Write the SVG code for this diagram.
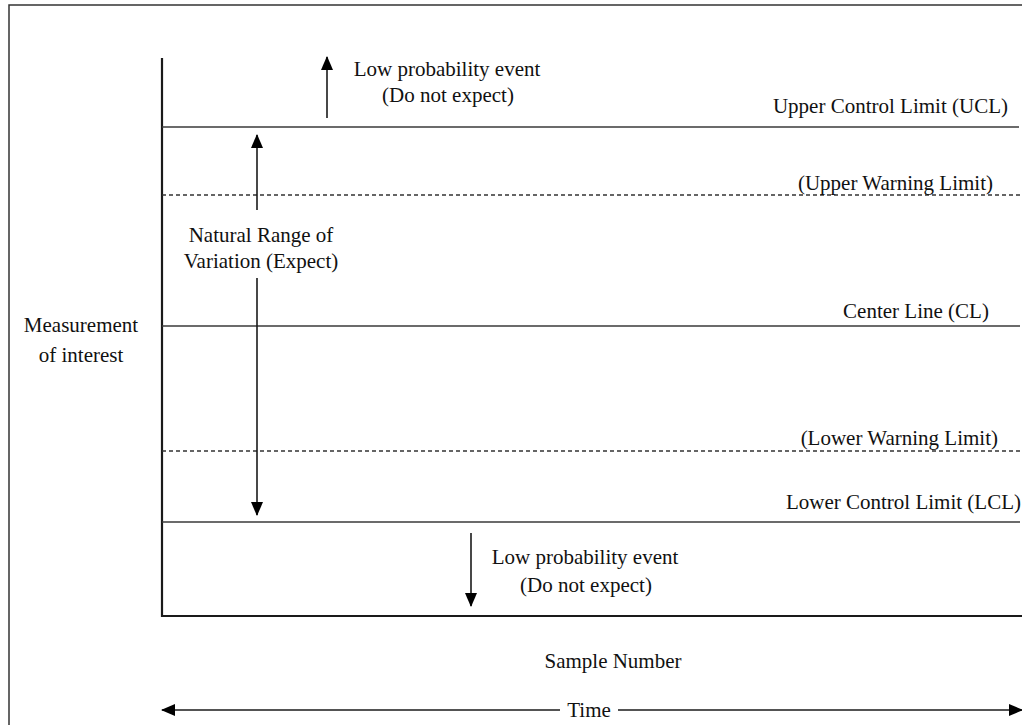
<svg xmlns="http://www.w3.org/2000/svg" width="1022" height="725" viewBox="0 0 1022 725">
<style>
text{font-family:"Liberation Serif","Times New Roman",serif;font-size:21px;fill:#111}
.lim{stroke:#3a3a3a;stroke-width:1.4;fill:none}
.dash{stroke:#333;stroke-width:1.3;stroke-dasharray:4 3;fill:none}
.axis{stroke:#1a1a1a;stroke-width:2.2;fill:none}
.arr{stroke:#1a1a1a;stroke-width:1.6;fill:none}
.mid{text-anchor:middle}
.end{text-anchor:end}
</style>
<defs>
<marker id="ah" markerWidth="14" markerHeight="12" refX="13" refY="6" orient="auto" markerUnits="userSpaceOnUse">
<path d="M0,0 L14,6 L0,12 Z" fill="#000"/>
</marker>
</defs>
<rect x="9" y="5" width="1030" height="740" fill="#fff" stroke="#333" stroke-width="1.5"/>
<g id="axes">
<line class="axis" x1="162" y1="58" x2="162" y2="617"/>
<line class="axis" x1="161" y1="616" x2="1022" y2="616"/>
</g>
<g id="ucl">
<line class="lim" x1="162" y1="127" x2="1019" y2="127"/>
<text class="end" x="1008" y="113">Upper Control Limit (UCL)</text>
</g>
<g id="uwl">
<line class="dash" x1="162" y1="195" x2="1020" y2="195"/>
<text class="end" x="993" y="190">(Upper Warning Limit)</text>
</g>
<g id="cl">
<line class="lim" x1="162" y1="326" x2="1020" y2="326"/>
<text class="mid" x="916" y="318">Center Line (CL)</text>
</g>
<g id="lwl">
<line class="dash" x1="162" y1="451" x2="1020" y2="451"/>
<text class="end" x="998" y="445">(Lower Warning Limit)</text>
</g>
<g id="lcl">
<line class="lim" x1="162" y1="522" x2="1020" y2="522"/>
<text class="end" x="1021" y="509">Lower Control Limit (LCL)</text>
</g>
<g id="y-label">
<text class="mid" x="81" y="332">Measurement</text>
<text class="mid" x="81" y="362">of interest</text>
</g>
<g id="natural-range">
<text class="mid" x="261" y="242">Natural Range of</text>
<text class="mid" x="261" y="268">Variation (Expect)</text>
</g>
<g id="upper-event">
<text class="mid" x="447" y="76">Low probability event</text>
<text class="mid" x="448" y="102">(Do not expect)</text>
</g>
<g id="lower-event">
<text class="mid" x="585" y="564">Low probability event</text>
<text class="mid" x="586" y="592">(Do not expect)</text>
</g>
<g id="x-label">
<text class="mid" x="613" y="668">Sample Number</text>
<text class="mid" x="589" y="717">Time</text>
</g>
<g id="connectors">
<line class="arr" x1="327" y1="118" x2="327" y2="57" marker-end="url(#ah)"/>
<line class="arr" x1="257" y1="210" x2="257" y2="135" marker-end="url(#ah)"/>
<line class="arr" x1="257" y1="278" x2="257" y2="515" marker-end="url(#ah)"/>
<line class="arr" x1="471" y1="533" x2="471" y2="606" marker-end="url(#ah)"/>
<line class="arr" x1="560" y1="710" x2="162" y2="710" marker-end="url(#ah)"/>
<line class="arr" x1="618" y1="710" x2="1022" y2="710" marker-end="url(#ah)"/>
</g>
</svg>
